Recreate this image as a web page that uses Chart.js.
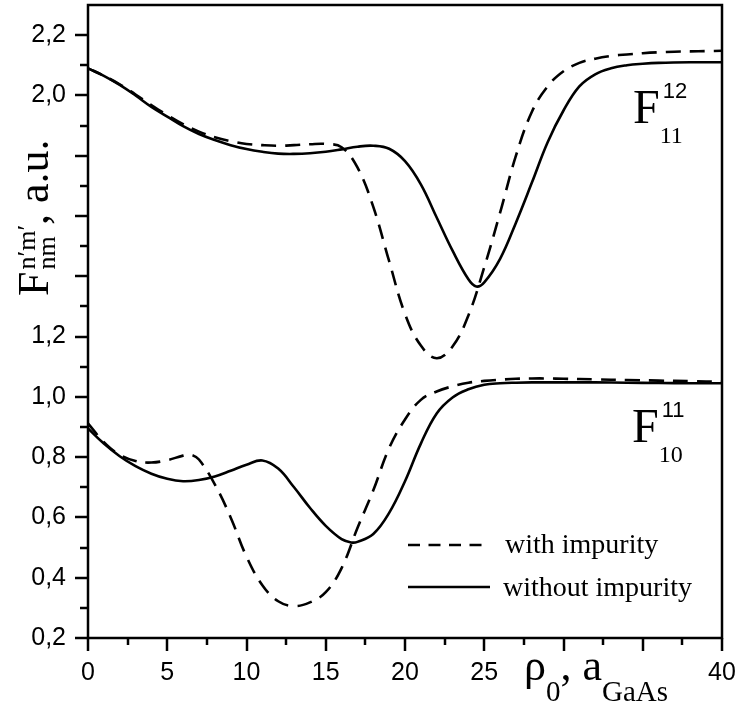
<!DOCTYPE html>
<html>
<head>
<meta charset="utf-8">
<script src="https://cdn.jsdelivr.net/npm/chart.js@4/dist/chart.umd.min.js"></script>
<style>
  body { margin: 0; background: #fff; }
  #wrap { width: 740px; height: 707px; }
</style>
</head>
<body>
<div id="wrap"><canvas id="fChart"></canvas></div>
<script>
// F_11^12 with impurity (dashed)
const upperDashedX = [0,1,2,3,4,5,6,7,8,9,10,11,12,13,14,15,16,17,18,19,20,21,22,23,24,25,26,27,28,29,30,31,32,33,34,35,36,37,38,39,40];
const upperDashedY = [2.09,2.065,2.037,2.003,1.968,1.935,1.905,1.88,1.861,1.848,1.839,1.835,1.833,1.835,1.838,1.839,1.828,1.761,1.63,1.45,1.275,1.17,1.128,1.167,1.27,1.43,1.611,1.80,1.945,2.03,2.08,2.108,2.122,2.131,2.136,2.14,2.143,2.145,2.146,2.147,2.148];

// F_11^12 without impurity (solid)
const upperSolidX = [0,1,2,3,4,5,6,7,8,9,10,11,12,13,14,15,16,17,18,19,20,21,22,23,24,24.5,25,26,27,28,29,30,31,32,33,34,35,36,38,40];
const upperSolidY = [2.09,2.065,2.035,2.0,1.962,1.93,1.898,1.872,1.852,1.835,1.822,1.813,1.807,1.806,1.808,1.813,1.821,1.83,1.833,1.823,1.782,1.705,1.595,1.485,1.39,1.366,1.38,1.458,1.578,1.71,1.845,1.95,2.03,2.07,2.09,2.1,2.105,2.108,2.11,2.11];

// F_10^11 with impurity (dashed)
const lowerDashedX = [0,1,2,3,4,5,6,6.5,7,8,9,10,11,12,13,14,15,16,17,18,19,20,21,22,23,24,25,26,27,28,29,30,32,34,36,38,40];
const lowerDashedY = [0.912,0.85,0.808,0.787,0.782,0.79,0.805,0.808,0.792,0.71,0.60,0.47,0.375,0.322,0.306,0.318,0.352,0.432,0.565,0.69,0.83,0.925,0.99,1.018,1.035,1.047,1.053,1.057,1.06,1.061,1.061,1.06,1.058,1.056,1.054,1.052,1.05];

// F_10^11 without impurity (solid)
const lowerSolidX = [0,1,2,3,4,5,6,7,8,9,10,11,12,13,14,15,16,16.6,17,18,19,20,21,22,23,24,25,26,27,28,29,30,32,34,36,38,40];
const lowerSolidY = [0.895,0.845,0.803,0.77,0.745,0.728,0.72,0.724,0.736,0.755,0.775,0.789,0.762,0.70,0.632,0.572,0.528,0.517,0.519,0.545,0.615,0.72,0.845,0.945,0.998,1.025,1.04,1.045,1.047,1.048,1.048,1.048,1.048,1.047,1.046,1.045,1.045];

// tick labels (1,4 / 1,6 / 1,8 and 30 / 35 carry no label in the figure)
const yLabelValues = [0.2,0.4,0.6,0.8,1.0,1.2,2.0,2.2];
const yTickLabels = ['0,2','0,4','0,6','0,8','1,0','1,2','2,0','2,2'];
const xLabelValues = [0,5,10,15,20,25,40];
const xTickLabels = ['0','5','10','15','20','25','40'];

const legendLabels = ['with impurity', 'without impurity'];

const SERIF = '"Liberation Serif", "Times New Roman", serif';
const SANS = '"Liberation Sans", Arial, sans-serif';
const dash = [15, 9];

function toPoints(xs, ys) {
  return xs.map((x, i) => ({ x: x, y: ys[i] }));
}

function lineSet(label, xs, ys, dashed) {
  return {
    label: label,
    data: toPoints(xs, ys),
    borderColor: '#000',
    borderWidth: 2.6,
    borderDash: dashed ? dash : [],
    pointRadius: 0,
    fill: false,
    tension: 0.4,
  };
}

// tick marks, frame, legend and all the rich text
const decorations = {
  id: 'decorations',
  afterDraw(chart) {
    const { ctx, chartArea: a } = chart;
    const xs = chart.scales.x;
    const ys = chart.scales.y;
    ctx.save();
    ctx.strokeStyle = '#000';
    ctx.fillStyle = '#000';
    ctx.lineWidth = 2.5;

    // x ticks every 2.5, major every 5
    for (let i = 0; i <= 16; i++) {
      const px = Math.round(xs.getPixelForValue(i * 2.5));
      const len = i % 2 === 0 ? 13 : 7;
      ctx.beginPath();
      ctx.moveTo(px, a.bottom);
      ctx.lineTo(px, a.bottom + len);
      ctx.stroke();
    }
    // y ticks every 0.1, major every 0.2
    for (let i = 2; i <= 22; i++) {
      const py = Math.round(ys.getPixelForValue(i / 10));
      const len = i % 2 === 0 ? 13 : 8;
      ctx.beginPath();
      ctx.moveTo(a.left, py);
      ctx.lineTo(a.left - len, py);
      ctx.stroke();
    }
    ctx.strokeRect(a.left, a.top, a.right - a.left, a.bottom - a.top);

    ctx.textAlign = 'left';
    ctx.textBaseline = 'alphabetic';

    // curve labels
    function fLabel(x, base, sup, sub) {
      ctx.font = '48px ' + SERIF;
      ctx.fillText('F', x, base);
      const w = ctx.measureText('F').width;
      ctx.font = '22px ' + SANS;
      ctx.fillText(sup, x + w + 3, base - 25);
      ctx.font = '24px ' + SERIF;
      ctx.fillText(sub, x + w, base + 20);
    }
    fLabel(633, 123, '12', '11');
    fLabel(632, 442, '11', '10');

    // legend
    ctx.lineWidth = 2.6;
    ctx.setLineDash([12, 8.5]);
    ctx.beginPath();
    ctx.moveTo(408, 545);
    ctx.lineTo(484, 545);
    ctx.stroke();
    ctx.setLineDash([]);
    ctx.beginPath();
    ctx.moveTo(408, 587);
    ctx.lineTo(490, 587);
    ctx.stroke();
    ctx.font = '28px ' + SERIF;
    ctx.fillText(legendLabels[0], 505, 553);
    ctx.fillText(legendLabels[1], 503, 596);

    // x axis title: rho_0, a_GaAs
    let cx = 524;
    const xb = 680;
    ctx.font = '44px ' + SERIF;
    ctx.fillText('\u03C1', cx, xb);
    cx += ctx.measureText('\u03C1').width;
    ctx.font = '29px ' + SERIF;
    ctx.fillText('0', cx, xb + 21);
    cx += ctx.measureText('0').width;
    ctx.font = '44px ' + SERIF;
    ctx.fillText(', a', cx, xb);
    cx += ctx.measureText(', a').width;
    ctx.font = '29px ' + SERIF;
    ctx.fillText('GaAs', cx, xb + 21);

    // y axis title, rotated
    ctx.translate(48, 296);
    ctx.rotate(-Math.PI / 2);
    ctx.font = '44px ' + SERIF;
    ctx.fillText('F', 0, 0);
    let u = ctx.measureText('F').width + 2;
    ctx.font = '26px ' + SERIF;
    ctx.fillText('n\u2032m\u2032', u, -13);
    ctx.fillText('nm', u, 7);
    u += Math.max(ctx.measureText('n\u2032m\u2032').width, ctx.measureText('nm').width);
    ctx.font = '44px ' + SERIF;
    ctx.fillText(', a.u.', u, 0);
    ctx.restore();
  }
};

const ctx = document.getElementById('fChart').getContext('2d');
const chart = new Chart(ctx, {
  type: 'line',
  data: {
    datasets: [
      lineSet('F11^12 with impurity', upperDashedX, upperDashedY, true),
      lineSet('F11^12 without impurity', upperSolidX, upperSolidY, false),
      lineSet('F10^11 with impurity', lowerDashedX, lowerDashedY, true),
      lineSet('F10^11 without impurity', lowerSolidX, lowerSolidY, false),
    ],
  },
  options: {
    responsive: true,
    maintainAspectRatio: false,
    animation: false,
    layout: { padding: { top: 5, right: 18, left: 0, bottom: 0 } },
    plugins: {
      legend: { display: false },
      tooltip: { enabled: false },
    },
    scales: {
      x: {
        type: 'linear',
        min: 0,
        max: 40,
        grid: { display: false, drawTicks: false },
        border: { display: false },
        afterBuildTicks: (scale) => {
          scale.ticks = xLabelValues.map((v) => ({ value: v }));
        },
        afterFit: (scale) => {
          scale.height = 69;
          scale.paddingLeft = 0;
          scale.paddingRight = 0;
        },
        ticks: {
          autoSkip: false,
          maxRotation: 0,
          padding: 20,
          color: '#000',
          font: { family: SANS, size: 25 },
          callback: (v, i) => xTickLabels[i],
        },
      },
      y: {
        min: 0.2,
        max: 2.3,
        grid: { display: false, drawTicks: false },
        border: { display: false },
        afterBuildTicks: (scale) => {
          scale.ticks = yLabelValues.map((v) => ({ value: v }));
        },
        afterFit: (scale) => {
          scale.width = 88;
          scale.paddingTop = 0;
          scale.paddingBottom = 0;
        },
        ticks: {
          autoSkip: false,
          padding: 22,
          color: '#000',
          font: { family: SANS, size: 25 },
          callback: (v, i) => yTickLabels[i],
        },
      },
    },
  },
  plugins: [decorations],
});
</script>
</body>
</html>
